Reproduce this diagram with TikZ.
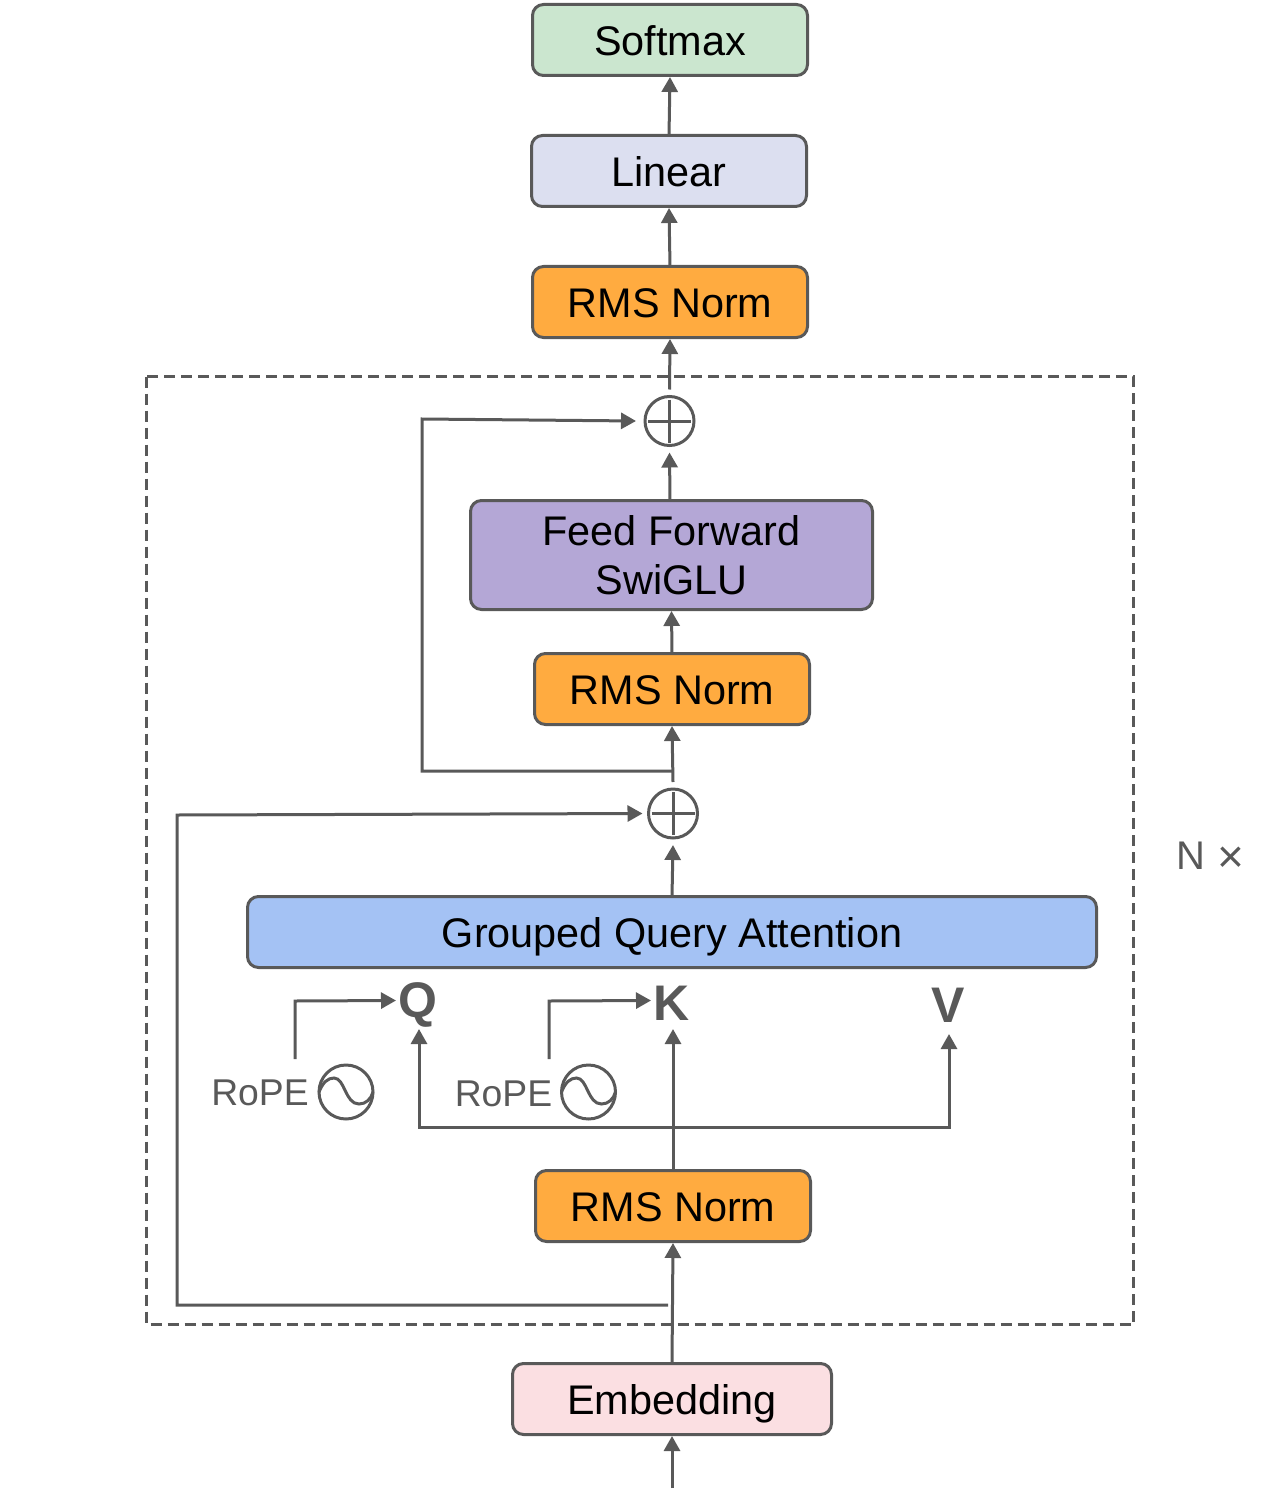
\documentclass[tikz,border=0pt]{standalone}
\usepackage{fontspec}
\setmainfont{Liberation Sans}
\usetikzlibrary{arrows.meta}
\definecolor{ink}{HTML}{595959}
\definecolor{softc}{HTML}{CBE6CF}
\definecolor{linc}{HTML}{DCDFF0}
\definecolor{rmsc}{HTML}{FFAB40}
\definecolor{ffc}{HTML}{B4A7D6}
\definecolor{gqac}{HTML}{A4C2F4}
\definecolor{embc}{HTML}{FBDFE2}
\tikzset{
  block/.style={draw=ink,line width=3pt,rounded corners=11pt,inner sep=0pt,outer sep=0pt,align=center,
    minimum height=71pt,text=black,font=\fontsize{41.4}{49}\selectfont},
  oneline/.style={block,text height=38pt,text depth=7pt},
  plusnode/.style={draw=ink,line width=3pt,circle,inner sep=0pt,outer sep=0pt,minimum size=49pt},
  conn/.style={draw=ink,line width=3pt},
  arrow/.style={conn,-{Triangle[length=15pt,width=16pt]}},
  letter/.style={text=ink,inner sep=0pt,font=\fontsize{50}{50}\selectfont\bfseries},
  rope/.style={text=ink,inner sep=0pt,font=\fontsize{37.3}{40}\selectfont},
  wavecircle/.style={draw=ink,line width=3pt,circle,inner sep=0pt,outer sep=0pt,minimum size=54pt},
  wave/.style={draw=ink,line width=3pt},
  frame/.style={draw=ink,line width=3pt,dash pattern=on 11pt off 6pt}
}
\begin{document}
\begin{tikzpicture}[x=1pt,y=-1pt]
\useasboundingbox (0,0) rectangle (1284,1495);
\draw[frame] (146.5,376.5) rectangle (1133.5,1324.5);

\node[oneline,fill=softc,minimum width=275pt] (soft) at (670,40) {Softmax};
\node[oneline,fill=linc,minimum width=275pt] (lin) at (669,171) {Linear};
\node[oneline,fill=rmsc,minimum width=275pt] (rmsa) at (670,302) {RMS Norm};
\node[plusnode] (plusa) at (669.5,421) {};
\node[block,fill=ffc,minimum width=402pt,minimum height=109pt] (ff) at (671.5,555) {Feed Forward\\SwiGLU};
\node[oneline,fill=rmsc,minimum width=275pt] (rmsb) at (672,689) {RMS Norm};
\node[plusnode] (plusb) at (673,813.5) {};
\node[oneline,fill=gqac,minimum width=849pt] (gqa) at (672,932) {Grouped Query Attention};
\node[oneline,fill=rmsc,minimum width=275pt] (rmsc) at (673,1206) {RMS Norm};
\node[oneline,fill=embc,minimum width=319pt] (emb) at (672,1399) {Embedding};

\draw[conn] ([xshift=3pt]plusa.west) -- ([xshift=-3pt]plusa.east) ([yshift=-3pt]plusa.north) -- ([yshift=3pt]plusa.south);
\draw[conn] ([xshift=3pt]plusb.west) -- ([xshift=-3pt]plusb.east) ([yshift=-3pt]plusb.north) -- ([yshift=3pt]plusb.south);

\node[letter] (q) at (418,1005) {Q};
\node[letter] (k) at (672,1003) {K};
\node[letter] (v) at (948,1005) {V};
\node[rope,anchor=center] (ropea) at (260,1093) {RoPE};
\node[rope,anchor=center] (ropeb) at (503.5,1094) {RoPE};
\node[wavecircle] (wa) at (346,1092) {};
\node[wavecircle] (wb) at (588.5,1092) {};
\draw[wave] (wa.west) .. controls (323,1082) and (328,1078) .. (334,1078) .. controls (345,1078) and (345,1104) .. (359,1104) .. controls (366,1104) and (371,1099) .. (wa.east);
\draw[wave] (wb.west) .. controls (565.5,1082) and (570.5,1078) .. (576.5,1078) .. controls (587.5,1078) and (587.5,1104) .. (601.5,1104) .. controls (608.5,1104) and (613.5,1099) .. (wb.east);

\node[text=ink,inner sep=0pt,font=\fontsize{40}{40}\selectfont,anchor=west] (nx) at (1176,857) {N\hspace{12pt}\raisebox{-3pt}{\fontsize{46}{46}\selectfont ×}};

\coordinate (inp) at (672,1488);
\coordinate (embj) at (668,1305);
\coordinate (ll) at (177,1305);
\coordinate (lu) at (177,815);
\coordinate (qt) at (419,1029);
\coordinate (kt) at (673,1029);
\coordinate (vt) at (949,1034);
\coordinate (qb) at (419,1127);
\coordinate (vb) at (949,1127);
\coordinate (kb) at (673,1127);
\coordinate (ra) at (295,1059);
\coordinate (rac) at (295,1001);
\coordinate (rae) at (396,1000.5);
\coordinate (rb) at (549,1059);
\coordinate (rbc) at (549,1001);
\coordinate (rbe) at (651,1000.5);
\coordinate (skip) at (672,771);
\coordinate (sl) at (422,771);
\coordinate (su) at (422,419);

\draw[arrow] (inp) -- ([yshift=-1.5pt]emb.south);
\draw[arrow] (emb.north) -- ([yshift=-1.5pt]rmsc.south);
\draw[arrow] (embj) -- (ll) -- (lu) -- ([xshift=-6pt]plusb.west);
\draw[arrow] (rmsc.north) -- (kt);
\draw[arrow] (kb) -- (qb) -- (qt);
\draw[arrow] (kb) -- (vb) -- (vt);
\draw[arrow] (ra) -- (rac) -- (rae);
\draw[arrow] (rb) -- (rbc) -- (rbe);
\draw[arrow] (gqa.north) -- ([yshift=-7pt]plusb.south);
\draw[arrow] ([yshift=7pt]plusb.north) -- ([yshift=-1.5pt]rmsb.south);
\draw[arrow] (skip) -- (sl) -- (su) -- ([xshift=-9pt]plusa.west);
\draw[arrow] (rmsb.north) -- ([yshift=-1.5pt]ff.south);
\draw[arrow] ([xshift=-1.5pt]ff.north) -- ([yshift=-7pt]plusa.south);
\draw[arrow] ([yshift=7pt]plusa.north) -- ([yshift=-1.5pt]rmsa.south);
\draw[arrow] (rmsa.north) -- ([yshift=-1.5pt]lin.south);
\draw[arrow] (lin.north) -- ([yshift=-1.5pt]soft.south);
\end{tikzpicture}
\end{document}
